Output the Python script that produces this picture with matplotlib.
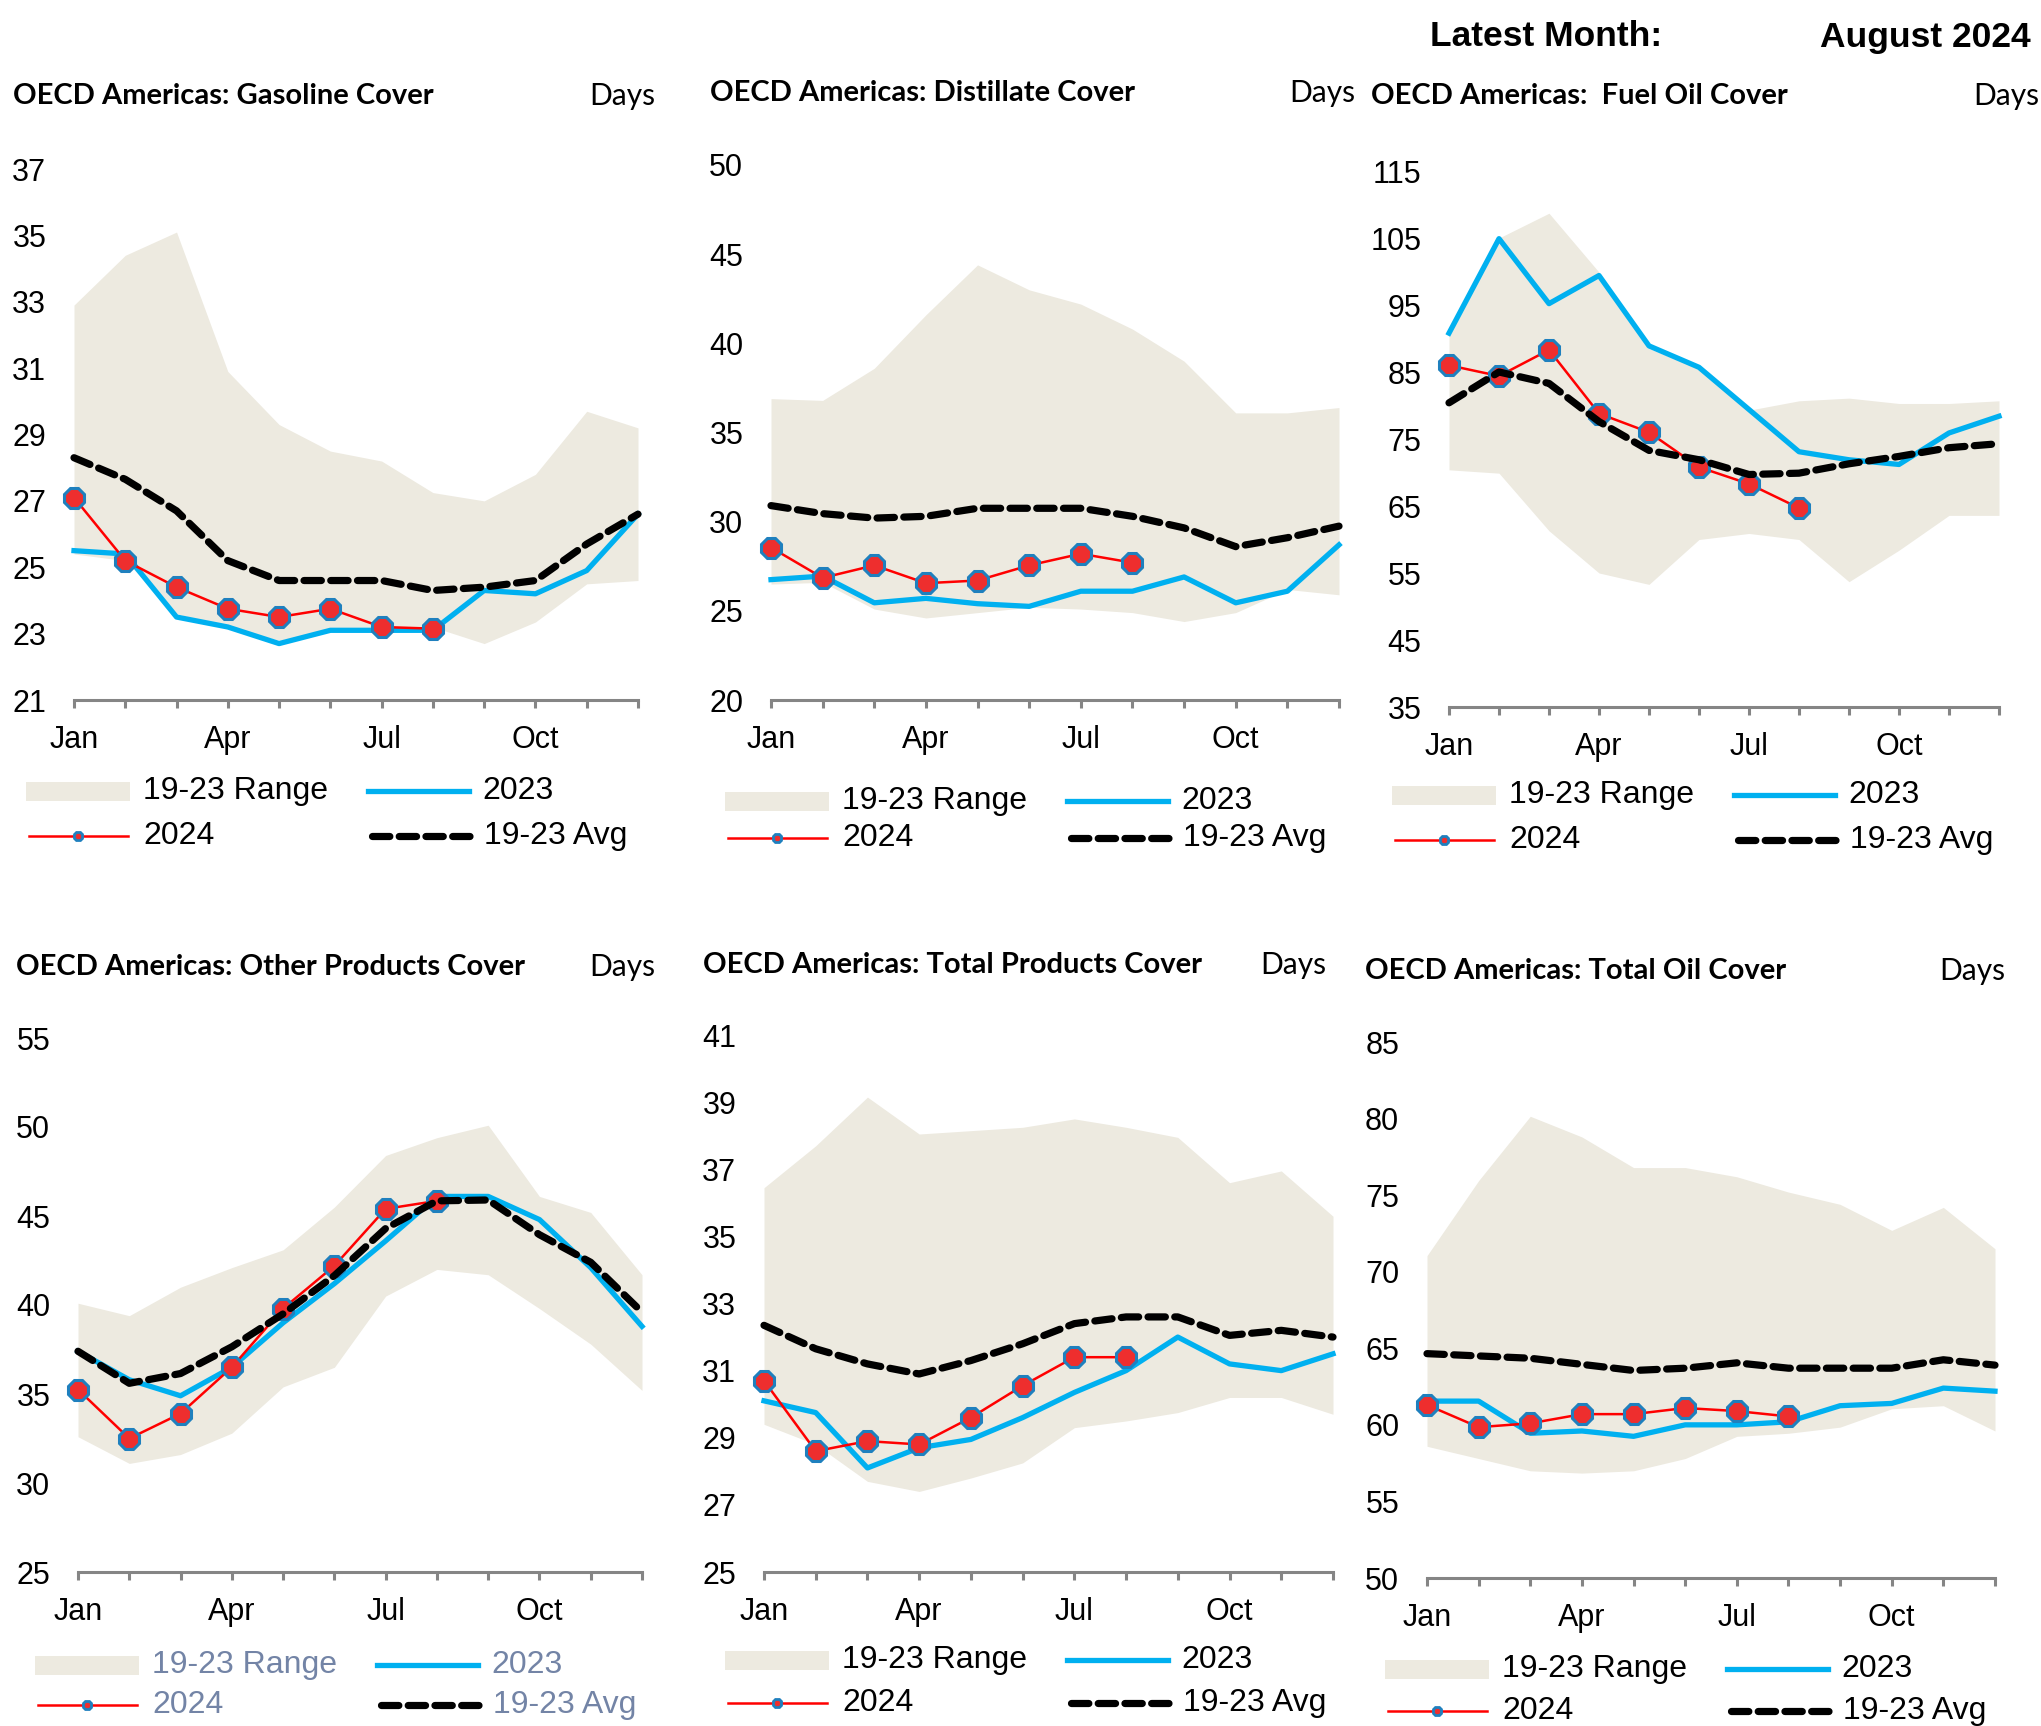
import numpy as np
import matplotlib.pyplot as plt
from matplotlib.patches import Rectangle

# Meses
months = ['Jan', 'Feb', 'Mar', 'Apr', 'May', 'Jun', 'Jul', 'Aug', 'Sep', 'Oct', 'Nov', 'Dec']
month_labels = ['Jan', '', '', 'Apr', '', '', 'Jul', '', '', 'Oct', '', '']

# Gasoline cover (days)
gas_low = [25.4, 25.2, 23.6, 23.2, 22.8, 23.1, 23.1, 23.2, 22.7, 23.35, 24.5, 24.6]
gas_high = [32.9, 34.4, 35.1, 30.9, 29.3, 28.5, 28.2, 27.25, 27.0, 27.8, 29.7, 29.2]
gas_2023 = [25.5, 25.4, 23.5, 23.2, 22.7, 23.1, 23.1, 23.1, 24.3, 24.2, 24.9, 26.6]
gas_2024 = [27.1, 25.2, 24.4, 23.75, 23.5, 23.75, 23.2, 23.15]
gas_avg = [28.3, 27.65, 26.7, 25.2, 24.6, 24.6, 24.6, 24.3, 24.4, 24.6, 25.7, 26.6]

# Distillate cover
dist_low = [26.5, 26.6, 25.1, 24.6, 24.9, 25.2, 25.1, 24.9, 24.4, 24.9, 26.2, 25.9]
dist_high = [36.9, 36.8, 38.6, 41.6, 44.4, 43.0, 42.2, 40.8, 39.0, 36.1, 36.1, 36.4]
dist_2023 = [26.75, 26.95, 25.45, 25.7, 25.4, 25.25, 26.1, 26.1, 26.9, 25.45, 26.1, 28.7]
dist_2024 = [28.55, 26.85, 27.55, 26.55, 26.7, 27.55, 28.2, 27.7]
dist_avg = [30.9, 30.45, 30.2, 30.3, 30.75, 30.75, 30.75, 30.3, 29.65, 28.6, 29.1, 29.75]

# Fuel oil cover
fuel_low = [70.4, 69.9, 61.3, 55.0, 53.3, 60.0, 60.9, 60.0, 53.7, 58.4, 63.6, 63.6]
fuel_high = [90.7, 105.0, 108.7, 99.9, 88.5, 85.5, 79.3, 80.7, 81.1, 80.3, 80.3, 80.7]
fuel_2023 = [90.8, 104.9, 95.2, 99.4, 88.9, 85.7, 79.4, 73.1, 71.9, 71.2, 75.9, 78.4]
fuel_2024 = [86.0, 84.4, 88.3, 78.8, 76.0, 70.8, 68.3, 64.7]
fuel_avg = [80.4, 85.0, 83.3, 77.6, 73.3, 71.9, 69.7, 69.9, 71.3, 72.4, 73.7, 74.3]

# Other products cover
oth_low = [32.6, 31.1, 31.6, 32.8, 35.4, 36.5, 40.5, 42.0, 41.7, 39.8, 37.8, 35.2]
oth_high = [40.1, 39.4, 41.0, 42.1, 43.1, 45.5, 48.4, 49.4, 50.1, 46.1, 45.2, 41.7]
oth_2023 = [37.4, 35.8, 34.9, 36.5, 39.0, 41.2, 43.6, 46.1, 46.1, 44.8, 42.1, 38.8]
oth_2024 = [35.25, 32.5, 33.9, 36.5, 39.8, 42.2, 45.4, 45.85]
oth_avg = [37.4, 35.6, 36.15, 37.65, 39.5, 41.65, 44.3, 45.85, 45.9, 43.95, 42.4, 39.6]

# Total products cover
tp_low = [29.4, 28.8, 27.7, 27.4, 27.8, 28.25, 29.3, 29.5, 29.75, 30.2, 30.2, 29.7]
tp_high = [36.45, 37.7, 39.15, 38.05, 38.15, 38.25, 38.5, 38.25, 37.95, 36.6, 36.95, 35.6]
tp_2023 = [30.1, 29.75, 28.1, 28.7, 28.95, 29.6, 30.35, 31.0, 32.0, 31.2, 31.0, 31.5]
tp_2024 = [30.7, 28.6, 28.9, 28.8, 29.6, 30.55, 31.4, 31.4]
tp_avg = [32.35, 31.65, 31.2, 30.9, 31.3, 31.8, 32.4, 32.6, 32.6, 32.05, 32.2, 32.0]

# Total oil cover
to_low = [58.6, 57.8, 57.0, 56.85, 57.0, 57.8, 59.25, 59.45, 59.85, 61.05, 61.25, 59.6]
to_high = [71.05, 75.95, 80.15, 78.8, 76.8, 76.8, 76.2, 75.2, 74.4, 72.7, 74.2, 71.5]
to_2023 = [61.55, 61.55, 59.45, 59.6, 59.25, 60.0, 60.0, 60.2, 61.25, 61.4, 62.4, 62.2]
to_2024 = [61.3, 59.85, 60.1, 60.7, 60.7, 61.1, 60.9, 60.55]
to_avg = [64.65, 64.5, 64.35, 63.95, 63.55, 63.7, 64.05, 63.7, 63.7, 63.7, 64.25, 63.9]

# Cores
c_range = '#EDEAE0'
c_2023 = '#00B0F0'
c_2024 = '#FF0000'
c_mark = '#EE2E2E'
c_medge = '#1F80BE'
c_axis = '#858585'

W, H = 2041, 1726
fig = plt.figure(figsize=(W / 100, H / 100), dpi=100)

title_font = 'Lato'
num_font = 'Liberation Sans'

# paineis: titulo, dados, limites, posicao (px)
panels = [
    dict(title='OECD Americas: Gasoline Cover', low=gas_low, high=gas_high, y23=gas_2023, y24=gas_2024, avg=gas_avg,
         ylim=(21, 37), step=2, box=(74, 169, 638, 700), tx=13, ty=96, dx=655, lx=26, ly=(791, 836), lc='black'),
    dict(title='OECD Americas: Distillate Cover', low=dist_low, high=dist_high, y23=dist_2023, y24=dist_2024, avg=dist_avg,
         ylim=(20, 50), step=5, box=(771, 165, 1339, 700), tx=710, ty=93, dx=1355, lx=725, ly=(801, 838), lc='black'),
    dict(title='OECD Americas:  Fuel Oil Cover', low=fuel_low, high=fuel_high, y23=fuel_2023, y24=fuel_2024, avg=fuel_avg,
         ylim=(35, 115), step=10, box=(1449, 171, 1999, 707), tx=1371, ty=96, dx=2039, lx=1392, ly=(795, 840), lc='black'),
    dict(title='OECD Americas: Other Products Cover', low=oth_low, high=oth_high, y23=oth_2023, y24=oth_2024, avg=oth_avg,
         ylim=(25, 55), step=5, box=(78, 1038, 642, 1572), tx=16, ty=967, dx=655, lx=35, ly=(1665, 1705), lc='#7384A6'),
    dict(title='OECD Americas: Total Products Cover', low=tp_low, high=tp_high, y23=tp_2023, y24=tp_2024, avg=tp_avg,
         ylim=(25, 41), step=2, box=(764, 1035, 1333, 1572), tx=703, ty=965, dx=1326, lx=725, ly=(1660, 1703), lc='black'),
    dict(title='OECD Americas: Total Oil Cover', low=to_low, high=to_high, y23=to_2023, y24=to_2024, avg=to_avg,
         ylim=(50, 85), step=5, box=(1427, 1042, 1995, 1578), tx=1365, ty=971, dx=2005, lx=1385, ly=(1669, 1711), lc='black'),
]

avg_style = dict(color='black', lw=5.2, linestyle=(0, (2.4, 1.3)), dash_capstyle='round')

x = np.arange(12)
for p in panels:
    l, t, r, b = p['box']
    ax = fig.add_axes([l / W, 1 - b / H, (r - l) / W, (b - t) / H])
    ax.fill_between(x, p['low'], p['high'], color=c_range, lw=0)
    ax.plot(x, p['y23'], color=c_2023, lw=3.8, clip_on=False)
    x24 = np.arange(len(p['y24']))
    ax.plot(x24, p['y24'], color=c_2024, lw=1.8, marker='8', markersize=15,
            markerfacecolor=c_mark, markeredgecolor=c_medge, markeredgewidth=2.2, clip_on=False)
    ax.plot(x, p['avg'], clip_on=False, **avg_style)

    lo, hi = p['ylim']
    ax.set_ylim(lo, hi)
    ax.set_xlim(0, 11)
    ax.set_yticks(np.arange(lo, hi + 0.1, p['step']))
    ax.set_xticks(x)
    ax.set_xticklabels(month_labels)
    for s in ['top', 'right', 'left']:
        ax.spines[s].set_visible(False)
    ax.spines['bottom'].set_color(c_axis)
    ax.spines['bottom'].set_linewidth(2.2)
    ax.tick_params(axis='y', length=0, pad=20, labelsize=22)
    ax.tick_params(axis='x', length=6, width=2.2, color=c_axis, pad=12, labelsize=22)
    for lab in ax.get_xticklabels() + ax.get_yticklabels():
        lab.set_fontfamily(num_font)
    ax.patch.set_alpha(0)

# camada de texto e legendas em pixels
ov = fig.add_axes([0, 0, 1, 1])
ov.set_xlim(0, W)
ov.set_ylim(H, 0)
ov.axis('off')

for p in panels:
    ov.text(p['tx'], p['ty'], p['title'], fontsize=21, fontweight='bold', family=title_font, va='center', ha='left')
    ov.text(p['dx'], p['ty'], 'Days', fontsize=21.5, family=title_font, va='center', ha='right')

    x0 = p['lx']
    y1, y2 = p['ly']
    lc = p['lc']
    ov.add_patch(Rectangle((x0, y1 - 9.5), 104, 19, color=c_range, lw=0))
    ov.text(x0 + 117, y1, '19-23 Range', fontsize=23, family=num_font, color=lc, va='center')
    ov.plot([x0 + 342, x0 + 443], [y1, y1], color=c_2023, lw=3.8)
    ov.text(x0 + 456, y1, '2023', fontsize=23, family=num_font, color=lc, va='center')
    ov.plot([x0 + 3, x0 + 102], [y2, y2], color=c_2024, lw=1.8)
    ov.plot([x0 + 52], [y2], marker='8', markersize=7, markerfacecolor=c_mark,
            markeredgecolor=c_medge, markeredgewidth=2)
    ov.text(x0 + 117, y2, '2024', fontsize=23, family=num_font, color=lc, va='center')
    ov.plot([x0 + 346, x0 + 446], [y2, y2], **avg_style)
    ov.text(x0 + 458, y2, '19-23 Avg', fontsize=23, family=num_font, color=lc, va='center')

ov.text(1430, 37, 'Latest Month:', fontsize=25.5, fontweight='bold', family=num_font, va='center', ha='left')
ov.text(2031, 37, 'August 2024', fontsize=25.5, fontweight='bold', family=num_font, va='center', ha='right')

fig.savefig('out.png', dpi=100)
